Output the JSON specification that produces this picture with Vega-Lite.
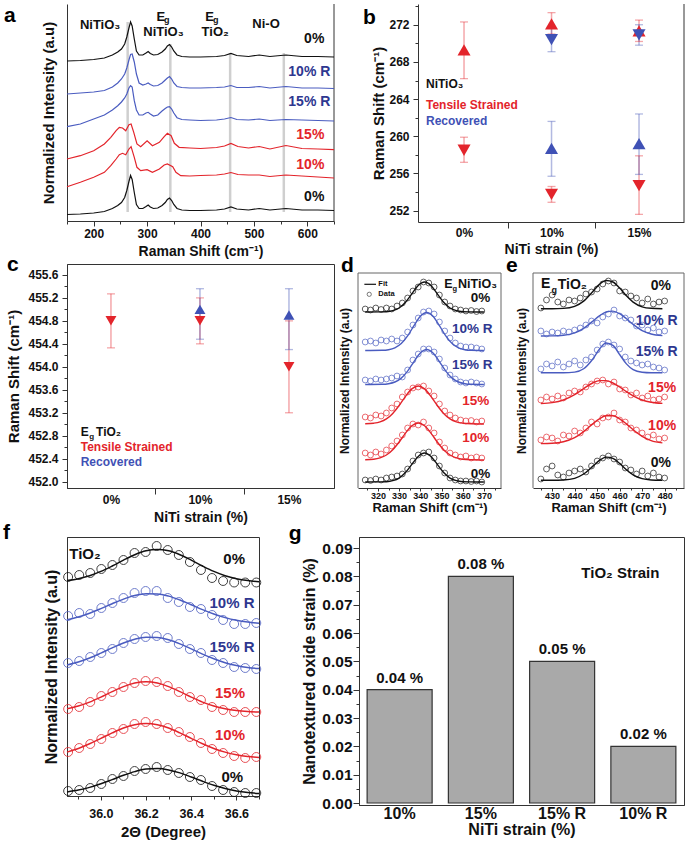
{
"$schema":"https://vega.github.io/schema/vega-lite/v6.json",
"padding":{"left":2,"top":0,"right":0,"bottom":0},
"spacing":-7,
"config":{
 "font":"Liberation Sans",
 "view":{"stroke":"#333","strokeWidth":1},
 "axis":{"labelFontWeight":"bold","titleFontWeight":"bold","labelColor":"#111","titleColor":"#111","domainColor":"#333","tickColor":"#333","grid":false,"labelFont":"Liberation Sans","titleFont":"Liberation Sans","labelOverlap":false,"labelFlush":false,"minExtent":0,"tickCount":100},
 "text":{"font":"Liberation Sans","fontWeight":"bold"}
},
"datasets":{
 "one":[{}],
 "a_vl":[{"x":263.6,"y1":9,"y2":199},{"x":343.5,"y1":9,"y2":177},{"x":455.5,"y1":9,"y2":168},{"x":556,"y1":9,"y2":168}],
 "a_sp":[
{"s":"k0","x":150,"y":160},{"s":"k0","x":175,"y":160.5},{"s":"k0","x":200,"y":161.5},{"s":"k0","x":220,"y":163},{"s":"k0","x":235,"y":166},{"s":"k0","x":245,"y":169},{"s":"k0","x":252,"y":172},{"s":"k0","x":258,"y":177},{"s":"k0","x":262,"y":184},{"s":"k0","x":266,"y":193},{"s":"k0","x":269,"y":199},{"s":"k0","x":272,"y":195},{"s":"k0","x":276,"y":182},{"s":"k0","x":280,"y":170},{"s":"k0","x":285,"y":166},{"s":"k0","x":292,"y":166},{"s":"k0","x":298,"y":168},{"s":"k0","x":302,"y":169.5},{"s":"k0","x":306,"y":167.5},{"s":"k0","x":312,"y":166},{"s":"k0","x":320,"y":166.5},{"s":"k0","x":328,"y":169},{"s":"k0","x":334,"y":172},{"s":"k0","x":338,"y":175},{"s":"k0","x":342,"y":176.5},{"s":"k0","x":346,"y":174},{"s":"k0","x":350,"y":170},{"s":"k0","x":356,"y":166},{"s":"k0","x":365,"y":164.5},{"s":"k0","x":380,"y":164},{"s":"k0","x":400,"y":164},{"s":"k0","x":430,"y":164.5},{"s":"k0","x":445,"y":165.5},{"s":"k0","x":457,"y":167.5},{"s":"k0","x":468,"y":165.5},{"s":"k0","x":490,"y":164.5},{"s":"k0","x":510,"y":166},{"s":"k0","x":530,"y":164.5},{"s":"k0","x":560,"y":166},{"s":"k0","x":590,"y":164.5},{"s":"k0","x":620,"y":164.5},{"s":"k0","x":650,"y":164},
{"s":"kR10","x":150,"y":127},{"s":"kR10","x":175,"y":128},{"s":"kR10","x":200,"y":129},{"s":"kR10","x":220,"y":130.5},{"s":"kR10","x":235,"y":134},{"s":"kR10","x":245,"y":138},{"s":"kR10","x":252,"y":142},{"s":"kR10","x":258,"y":147},{"s":"kR10","x":262,"y":153},{"s":"kR10","x":266,"y":161},{"s":"kR10","x":269,"y":166.5},{"s":"kR10","x":272,"y":167},{"s":"kR10","x":276,"y":159},{"s":"kR10","x":280,"y":147},{"s":"kR10","x":285,"y":138},{"s":"kR10","x":292,"y":136},{"s":"kR10","x":298,"y":137},{"s":"kR10","x":302,"y":138},{"s":"kR10","x":306,"y":136.5},{"s":"kR10","x":312,"y":135},{"s":"kR10","x":320,"y":135.5},{"s":"kR10","x":328,"y":138},{"s":"kR10","x":334,"y":141},{"s":"kR10","x":338,"y":143},{"s":"kR10","x":342,"y":144.5},{"s":"kR10","x":346,"y":142},{"s":"kR10","x":350,"y":138},{"s":"kR10","x":356,"y":134.5},{"s":"kR10","x":365,"y":133.5},{"s":"kR10","x":380,"y":133},{"s":"kR10","x":400,"y":133},{"s":"kR10","x":430,"y":133.5},{"s":"kR10","x":445,"y":134},{"s":"kR10","x":457,"y":135.5},{"s":"kR10","x":468,"y":133.5},{"s":"kR10","x":490,"y":133.5},{"s":"kR10","x":510,"y":134.5},{"s":"kR10","x":530,"y":133},{"s":"kR10","x":560,"y":134.5},{"s":"kR10","x":590,"y":133},{"s":"kR10","x":620,"y":133},{"s":"kR10","x":650,"y":132.5},
{"s":"kR15","x":150,"y":94.3},{"s":"kR15","x":175,"y":97},{"s":"kR15","x":200,"y":102},{"s":"kR15","x":220,"y":106},{"s":"kR15","x":235,"y":111},{"s":"kR15","x":245,"y":115.3},{"s":"kR15","x":252,"y":119},{"s":"kR15","x":258,"y":123},{"s":"kR15","x":262,"y":127},{"s":"kR15","x":266,"y":133},{"s":"kR15","x":269,"y":135.3},{"s":"kR15","x":272,"y":134},{"s":"kR15","x":276,"y":120.3},{"s":"kR15","x":280,"y":111},{"s":"kR15","x":285,"y":106},{"s":"kR15","x":292,"y":106},{"s":"kR15","x":298,"y":108},{"s":"kR15","x":302,"y":108.7},{"s":"kR15","x":306,"y":107},{"s":"kR15","x":312,"y":105},{"s":"kR15","x":320,"y":106},{"s":"kR15","x":328,"y":110},{"s":"kR15","x":334,"y":112.5},{"s":"kR15","x":338,"y":114},{"s":"kR15","x":342,"y":114.3},{"s":"kR15","x":346,"y":112},{"s":"kR15","x":350,"y":108},{"s":"kR15","x":356,"y":103.3},{"s":"kR15","x":365,"y":101.5},{"s":"kR15","x":380,"y":101},{"s":"kR15","x":400,"y":100.5},{"s":"kR15","x":430,"y":101},{"s":"kR15","x":445,"y":102},{"s":"kR15","x":457,"y":103.5},{"s":"kR15","x":468,"y":101.5},{"s":"kR15","x":490,"y":101},{"s":"kR15","x":510,"y":102},{"s":"kR15","x":530,"y":100.5},{"s":"kR15","x":560,"y":101.5},{"s":"kR15","x":590,"y":101},{"s":"kR15","x":620,"y":100.5},{"s":"kR15","x":650,"y":100},
{"s":"k15","x":150,"y":62},{"s":"k15","x":175,"y":65.3},{"s":"k15","x":200,"y":70.3},{"s":"k15","x":220,"y":77},{"s":"k15","x":232,"y":83.7},{"s":"k15","x":242,"y":90.3},{"s":"k15","x":248,"y":93.7},{"s":"k15","x":254,"y":93},{"s":"k15","x":260,"y":90.3},{"s":"k15","x":266,"y":96.3},{"s":"k15","x":270,"y":97},{"s":"k15","x":275,"y":88.7},{"s":"k15","x":281,"y":77},{"s":"k15","x":288,"y":74.3},{"s":"k15","x":300,"y":80.3},{"s":"k15","x":310,"y":75.3},{"s":"k15","x":323,"y":78.7},{"s":"k15","x":332,"y":84.3},{"s":"k15","x":338,"y":87.7},{"s":"k15","x":345,"y":85.3},{"s":"k15","x":351,"y":77.7},{"s":"k15","x":360,"y":73.7},{"s":"k15","x":380,"y":73},{"s":"k15","x":400,"y":72.5},{"s":"k15","x":430,"y":73.5},{"s":"k15","x":445,"y":75},{"s":"k15","x":457,"y":77.5},{"s":"k15","x":470,"y":74.5},{"s":"k15","x":490,"y":73},{"s":"k15","x":510,"y":74.5},{"s":"k15","x":530,"y":72},{"s":"k15","x":560,"y":75.5},{"s":"k15","x":590,"y":72.5},{"s":"k15","x":620,"y":72},{"s":"k15","x":650,"y":71.3},
{"s":"k10","x":150,"y":34.3},{"s":"k10","x":175,"y":38.7},{"s":"k10","x":200,"y":43.7},{"s":"k10","x":220,"y":48.7},{"s":"k10","x":232,"y":55.3},{"s":"k10","x":242,"y":62},{"s":"k10","x":248,"y":66.3},{"s":"k10","x":254,"y":67.7},{"s":"k10","x":260,"y":66.3},{"s":"k10","x":266,"y":72},{"s":"k10","x":270,"y":74.3},{"s":"k10","x":276,"y":63.7},{"s":"k10","x":281,"y":53.7},{"s":"k10","x":288,"y":50.3},{"s":"k10","x":300,"y":51.3},{"s":"k10","x":310,"y":48.7},{"s":"k10","x":323,"y":52},{"s":"k10","x":332,"y":56},{"s":"k10","x":338,"y":57},{"s":"k10","x":348,"y":54.3},{"s":"k10","x":354,"y":48.7},{"s":"k10","x":363,"y":45.3},{"s":"k10","x":380,"y":45},{"s":"k10","x":400,"y":45.5},{"s":"k10","x":430,"y":46},{"s":"k10","x":445,"y":47},{"s":"k10","x":457,"y":48.5},{"s":"k10","x":470,"y":46.5},{"s":"k10","x":490,"y":46},{"s":"k10","x":510,"y":46},{"s":"k10","x":530,"y":44.5},{"s":"k10","x":560,"y":46},{"s":"k10","x":590,"y":45},{"s":"k10","x":620,"y":44},{"s":"k10","x":650,"y":43},
{"s":"k0b","x":150,"y":6.5},{"s":"k0b","x":175,"y":7},{"s":"k0b","x":200,"y":8},{"s":"k0b","x":220,"y":9.5},{"s":"k0b","x":235,"y":12.5},{"s":"k0b","x":245,"y":15.5},{"s":"k0b","x":252,"y":18.5},{"s":"k0b","x":258,"y":23.5},{"s":"k0b","x":262,"y":30.5},{"s":"k0b","x":266,"y":39.5},{"s":"k0b","x":269,"y":45.5},{"s":"k0b","x":272,"y":41.5},{"s":"k0b","x":276,"y":28.5},{"s":"k0b","x":280,"y":16.5},{"s":"k0b","x":285,"y":12.5},{"s":"k0b","x":292,"y":12.5},{"s":"k0b","x":298,"y":14.5},{"s":"k0b","x":302,"y":16},{"s":"k0b","x":306,"y":14},{"s":"k0b","x":312,"y":12.5},{"s":"k0b","x":320,"y":13},{"s":"k0b","x":328,"y":15.5},{"s":"k0b","x":334,"y":18.5},{"s":"k0b","x":338,"y":21.5},{"s":"k0b","x":342,"y":23},{"s":"k0b","x":346,"y":20.5},{"s":"k0b","x":350,"y":16.5},{"s":"k0b","x":356,"y":12.5},{"s":"k0b","x":365,"y":11},{"s":"k0b","x":380,"y":10.5},{"s":"k0b","x":400,"y":10.5},{"s":"k0b","x":430,"y":11},{"s":"k0b","x":445,"y":12},{"s":"k0b","x":457,"y":14},{"s":"k0b","x":468,"y":12},{"s":"k0b","x":490,"y":11},{"s":"k0b","x":510,"y":12.5},{"s":"k0b","x":530,"y":11},{"s":"k0b","x":560,"y":12.5},{"s":"k0b","x":590,"y":11},{"s":"k0b","x":620,"y":11},{"s":"k0b","x":650,"y":10.5}],
 "a_lab":[{"s":"k0","x":631.9,"y":182,"t":"0%"},{"s":"kR10","x":643.2,"y":149.3,"t":"10% R"},{"s":"kR15","x":643.2,"y":118.7,"t":"15% R"},{"s":"k15","x":631.9,"y":86,"t":"15%"},{"s":"k10","x":631.9,"y":56,"t":"10%"},{"s":"k0b","x":631.9,"y":24.3,"t":"0%"}],
 "a_ann":[{"x":212,"y":196.3,"t":"NiTiO₃"},{"x":325.5,"y":204.5,"t":"E"},{"x":330.7,"y":188.7,"t":"NiTiO₃"},{"x":417,"y":204.5,"t":"E"},{"x":427.5,"y":188.7,"t":"TiO₂"},{"x":522.7,"y":197,"t":"Ni-O"}],
 "a_sub":[{"x":336.9,"y":200.7,"t":"g"},{"x":428.5,"y":200.7,"t":"g"}],
 "b_pts":[{"pos":1,"v":269.3,"lo":266.2,"hi":272.3,"grp":"T","m":"up"},{"pos":2,"v":272.1,"lo":271.0,"hi":273.3,"grp":"T","m":"up"},{"pos":3,"v":271.35,"lo":270.2,"hi":272.5,"grp":"T","m":"up"},{"pos":1,"v":258.5,"lo":257.2,"hi":259.9,"grp":"T","m":"down"},{"pos":2,"v":253.75,"lo":252.9,"hi":254.6,"grp":"T","m":"down"},{"pos":3,"v":254.7,"lo":251.6,"hi":257.9,"grp":"T","m":"down"},{"pos":2,"v":270.4,"lo":269.1,"hi":271.7,"grp":"R","m":"down"},{"pos":3,"v":270.9,"lo":269.8,"hi":272.0,"grp":"R","m":"down"},{"pos":2,"v":258.7,"lo":255.7,"hi":261.6,"grp":"R","m":"up"},{"pos":3,"v":259.2,"lo":255.9,"hi":262.4,"grp":"R","m":"up"}],
 "b_txt":[{"pos":0.565,"v":265.6,"t":"NiTiO₃","grp":"N"},{"pos":0.565,"v":263.4,"t":"Tensile Strained","grp":"T"},{"pos":0.565,"v":261.6,"t":"Recovered","grp":"R"}],
 "c_pts":[{"pos":1,"v":454.8,"lo":454.33,"hi":455.27,"grp":"T","m":"down"},{"pos":2,"v":454.8,"lo":454.4,"hi":455.2,"grp":"T","m":"down"},{"pos":3,"v":454.0,"lo":453.2,"hi":454.8,"grp":"T","m":"down"},{"pos":2,"v":455.0,"lo":454.48,"hi":455.36,"grp":"R","m":"up"},{"pos":3,"v":454.9,"lo":454.3,"hi":455.36,"grp":"R","m":"up"}],
 "c_txt":[{"pos":0.66,"v":452.86,"t":"E","grp":"N"},{"pos":0.832,"v":452.86,"t":"TiO₂","grp":"N"},{"pos":0.66,"v":452.61,"t":"Tensile Strained","grp":"T"},{"pos":0.66,"v":452.34,"t":"Recovered","grp":"R"}],
 "c_sub":[{"pos":0.755,"v":452.78,"t":"g"}],
 "d_fit":[
{"s":"k0","x":314,"y":176},{"s":"k0","x":321,"y":176.1},{"s":"k0","x":324,"y":176.3},{"s":"k0","x":327,"y":177.3},{"s":"k0","x":330,"y":180},{"s":"k0","x":333,"y":185.8},{"s":"k0","x":336,"y":194.2},{"s":"k0","x":339,"y":202.5},{"s":"k0","x":342,"y":206},{"s":"k0","x":345,"y":202.5},{"s":"k0","x":348,"y":194.2},{"s":"k0","x":351,"y":185.8},{"s":"k0","x":354,"y":180},{"s":"k0","x":357,"y":177.3},{"s":"k0","x":360,"y":176.3},{"s":"k0","x":363,"y":176.1},{"s":"k0","x":370,"y":176},
{"s":"kR10","x":314,"y":137.5},{"s":"kR10","x":322,"y":137.7},{"s":"kR10","x":325,"y":138.3},{"s":"kR10","x":328,"y":140.2},{"s":"kR10","x":331,"y":144.4},{"s":"kR10","x":334,"y":152.1},{"s":"kR10","x":337,"y":162.3},{"s":"kR10","x":340,"y":171.7},{"s":"kR10","x":343,"y":175.5},{"s":"kR10","x":346,"y":171.7},{"s":"kR10","x":349,"y":162.3},{"s":"kR10","x":352,"y":152.1},{"s":"kR10","x":355,"y":144.4},{"s":"kR10","x":358,"y":140.2},{"s":"kR10","x":361,"y":138.3},{"s":"kR10","x":364,"y":137.7},{"s":"kR10","x":370,"y":137.5},
{"s":"kR15","x":314,"y":103.5},{"s":"kR15","x":322,"y":103.7},{"s":"kR15","x":325,"y":104.3},{"s":"kR15","x":328,"y":106},{"s":"kR15","x":331,"y":109.9},{"s":"kR15","x":334,"y":116.9},{"s":"kR15","x":337,"y":126.4},{"s":"kR15","x":340,"y":135},{"s":"kR15","x":343,"y":138.5},{"s":"kR15","x":346,"y":135},{"s":"kR15","x":349,"y":126.4},{"s":"kR15","x":352,"y":116.9},{"s":"kR15","x":355,"y":109.9},{"s":"kR15","x":358,"y":106},{"s":"kR15","x":361,"y":104.3},{"s":"kR15","x":364,"y":103.7},{"s":"kR15","x":370,"y":103.5},
{"s":"k15","x":314,"y":64.2},{"s":"k15","x":318,"y":64.8},{"s":"k15","x":321,"y":66.1},{"s":"k15","x":324,"y":69.1},{"s":"k15","x":327,"y":74.6},{"s":"k15","x":330,"y":82.5},{"s":"k15","x":333,"y":91.6},{"s":"k15","x":336,"y":99.1},{"s":"k15","x":339,"y":102},{"s":"k15","x":342,"y":99.1},{"s":"k15","x":345,"y":91.6},{"s":"k15","x":348,"y":82.5},{"s":"k15","x":351,"y":74.6},{"s":"k15","x":354,"y":69.1},{"s":"k15","x":357,"y":66.1},{"s":"k15","x":360,"y":64.8},{"s":"k15","x":364,"y":64.2},{"s":"k15","x":370,"y":64},
{"s":"k10","x":314,"y":28.2},{"s":"k10","x":318,"y":28.7},{"s":"k10","x":321,"y":30.1},{"s":"k10","x":324,"y":33},{"s":"k10","x":327,"y":38.3},{"s":"k10","x":330,"y":46},{"s":"k10","x":333,"y":54.9},{"s":"k10","x":336,"y":62.2},{"s":"k10","x":339,"y":65},{"s":"k10","x":342,"y":62.2},{"s":"k10","x":345,"y":54.9},{"s":"k10","x":348,"y":46},{"s":"k10","x":351,"y":38.3},{"s":"k10","x":354,"y":33},{"s":"k10","x":357,"y":30.1},{"s":"k10","x":360,"y":28.7},{"s":"k10","x":364,"y":28.2},{"s":"k10","x":370,"y":28},
{"s":"k0b","x":314,"y":6},{"s":"k0b","x":321,"y":6.1},{"s":"k0b","x":324,"y":6.3},{"s":"k0b","x":327,"y":7.3},{"s":"k0b","x":330,"y":9.9},{"s":"k0b","x":333,"y":15.4},{"s":"k0b","x":336,"y":23.6},{"s":"k0b","x":339,"y":31.6},{"s":"k0b","x":342,"y":35},{"s":"k0b","x":345,"y":31.6},{"s":"k0b","x":348,"y":23.6},{"s":"k0b","x":351,"y":15.4},{"s":"k0b","x":354,"y":9.9},{"s":"k0b","x":357,"y":7.3},{"s":"k0b","x":360,"y":6.3},{"s":"k0b","x":363,"y":6.1},{"s":"k0b","x":370,"y":6}],
 "d_dat":[
{"x":314,"k0":179,"kR10":146,"kR15":108,"k15":71,"k10":35,"k0b":8},
{"x":316.5,"k0":178,"kR10":147,"kR15":107,"k15":70,"k10":33,"k0b":7.5},
{"x":319,"k0":180,"kR10":145,"kR15":109,"k15":73,"k10":36,"k0b":9},
{"x":321.5,"k0":178.5,"kR10":148,"kR15":108,"k15":72,"k10":34,"k0b":8},
{"x":324,"k0":180,"kR10":147,"kR15":109,"k15":75,"k10":38,"k0b":10},
{"x":326.5,"k0":179,"kR10":149,"kR15":110,"k15":80,"k10":42,"k0b":11},
{"x":329,"k0":182,"kR10":147,"kR15":112,"k15":84,"k10":47,"k0b":12},
{"x":331.5,"k0":185,"kR10":150,"kR15":111,"k15":91,"k10":53,"k0b":14},
{"x":334,"k0":190,"kR10":156,"kR15":118,"k15":96,"k10":60,"k0b":19},
{"x":336.5,"k0":197,"kR10":163,"kR15":128,"k15":100,"k10":64,"k0b":27},
{"x":339,"k0":201,"kR10":170,"kR15":134,"k15":101,"k10":63,"k0b":33},
{"x":341.5,"k0":206,"kR10":176,"kR15":139,"k15":102,"k10":66,"k0b":35},
{"x":344,"k0":205,"kR10":177,"kR15":139,"k15":97,"k10":60,"k0b":36},
{"x":346.5,"k0":201,"kR10":174,"kR15":136,"k15":92,"k10":55,"k0b":30},
{"x":349,"k0":193,"kR10":166,"kR15":129,"k15":84,"k10":46,"k0b":22},
{"x":351.5,"k0":186,"kR10":157,"kR15":120,"k15":77,"k10":40,"k0b":15},
{"x":354,"k0":182,"kR10":150,"kR15":113,"k15":73,"k10":35,"k0b":10},
{"x":356.5,"k0":179,"kR10":145,"kR15":109,"k15":70,"k10":33,"k0b":8},
{"x":359,"k0":178,"kR10":142,"kR15":106,"k15":68,"k10":31,"k0b":7},
{"x":361.5,"k0":177,"kR10":141,"kR15":105,"k15":67,"k10":32,"k0b":7},
{"x":364,"k0":177.5,"kR10":141,"kR15":106,"k15":67.5,"k10":30,"k0b":6.5},
{"x":366.5,"k0":176.5,"kR10":140,"kR15":105,"k15":66,"k10":31,"k0b":7},
{"x":369,"k0":177,"kR10":139,"kR15":104,"k15":67,"k10":30,"k0b":6}],
 "d_lab":[{"s":"k0","x":373,"y":190.3,"t":"0%"},{"s":"kR10","x":374.1,"y":158.7,"t":"10% R"},{"s":"kR15","x":374.1,"y":123,"t":"15% R"},{"s":"k15","x":372.5,"y":87,"t":"15%"},{"s":"k10","x":372.5,"y":50.3,"t":"10%"},{"s":"k0b","x":373,"y":13.7,"t":"0%"}],
 "d_big":[{"x":351.3,"y":204,"t":"E"},{"x":357.8,"y":204.3,"t":"NiTiO₃"}],
 "d_small":[{"x":355.2,"y":198.7,"t":"g"},{"x":320.2,"y":203.7,"t":"Fit"},{"x":320.2,"y":193.7,"t":"Data"}],
 "d_legl":[{"x":313.6,"x2":319.1,"y":203.7}],
 "d_legp":[{"x":315.9,"y":193.7}],
 "e_fit":[
{"x":425,"k0":179.3,"kR10":152,"kR15":115.3,"k15":84.5,"k10":44.4,"k0b":7.7},
{"x":430,"k0":179.3,"kR10":152.1,"kR15":115.3,"k15":85.4,"k10":44.7,"k0b":7.7},
{"x":435,"k0":179.6,"kR10":152.7,"kR15":115.3,"k15":88,"k10":46.2,"k0b":8},
{"x":440,"k0":181.7,"kR10":155.1,"kR15":115.9,"k15":93.4,"k10":50.3,"k0b":9.7},
{"x":444,"k0":186.9,"kR10":159.6,"kR15":119.2,"k15":99.4,"k10":56.4,"k0b":14},
{"x":448,"k0":196.3,"kR10":166.6,"kR15":128.8,"k15":105,"k10":64.1,"k0b":21.6},
{"x":451,"k0":203.6,"kR10":172.1,"kR15":138.8,"k15":107.4,"k10":69.2,"k0b":27.6},
{"x":454,"k0":207.5,"kR10":176,"kR15":145,"k15":107.4,"k10":72.3,"k0b":30.9},
{"x":457,"k0":206,"kR10":176.9,"kR15":142.6,"k15":105,"k10":72.3,"k0b":29.6},
{"x":460,"k0":199.9,"kR10":174.3,"kR15":133.5,"k15":101,"k10":69.2,"k0b":24.6},
{"x":463,"k0":192.2,"kR10":169.3,"kR15":124.1,"k15":96.3,"k10":64.1,"k0b":18.3},
{"x":466,"k0":185.9,"kR10":163.6,"kR15":118.4,"k15":92.1,"k10":58.2,"k0b":13.1},
{"x":470,"k0":181.2,"kR10":157.4,"kR15":115.8,"k15":88,"k10":51.6,"k0b":9.3},
{"x":474,"k0":179.7,"kR10":154,"kR15":115.3,"k15":85.7,"k10":47.4,"k0b":8},
{"x":479,"k0":179.3,"kR10":152.4,"kR15":115.3,"k15":84.6,"k10":45.1,"k0b":7.7}],
 "e_dat":[
{"x":425,"k0":180,"kR10":157,"kR15":119,"k15":88,"k10":48,"k0b":9},
{"x":427.5,"k0":188,"kR10":154,"kR15":124,"k15":91,"k10":51,"k0b":19},
{"x":430,"k0":193,"kR10":156,"kR15":122,"k15":89,"k10":50,"k0b":22},
{"x":432.5,"k0":186,"kR10":155,"kR15":126,"k15":92,"k10":47,"k0b":13},
{"x":435,"k0":184,"kR10":157,"kR15":121,"k15":90,"k10":53,"k0b":11},
{"x":437.5,"k0":188,"kR10":156,"kR15":124,"k15":95,"k10":52,"k0b":15},
{"x":440,"k0":187,"kR10":158,"kR15":127,"k15":97,"k10":57,"k0b":17},
{"x":442.5,"k0":190,"kR10":160,"kR15":123,"k15":96,"k10":55,"k0b":19},
{"x":445,"k0":194,"kR10":163,"kR15":128,"k15":101,"k10":60,"k0b":16},
{"x":447.5,"k0":196,"kR10":167,"kR15":131,"k15":104,"k10":66,"k0b":22},
{"x":450,"k0":199,"kR10":165,"kR15":138,"k15":107,"k10":64,"k0b":27},
{"x":452.5,"k0":204,"kR10":171,"kR15":144,"k15":108,"k10":70,"k0b":30},
{"x":455,"k0":207,"kR10":174,"kR15":146,"k15":104,"k10":71,"k0b":32},
{"x":457.5,"k0":205,"kR10":178,"kR15":143,"k15":106,"k10":75,"k0b":29},
{"x":460,"k0":197,"kR10":172,"kR15":139,"k15":99,"k10":68,"k0b":26},
{"x":462.5,"k0":196,"kR10":170,"kR15":131,"k15":98,"k10":66,"k0b":20},
{"x":465,"k0":192,"kR10":168,"kR15":127,"k15":93,"k10":60,"k0b":18},
{"x":467.5,"k0":190,"kR10":162,"kR15":125,"k15":95,"k10":58,"k0b":14},
{"x":470,"k0":185,"kR10":163,"kR15":123,"k15":90,"k10":55,"k0b":17},
{"x":472.5,"k0":189,"kR10":158,"kR15":124,"k15":92,"k10":51,"k0b":12},
{"x":475,"k0":184,"kR10":160,"kR15":121,"k15":88,"k10":53,"k0b":15},
{"x":477.5,"k0":186,"kR10":156,"kR15":120,"k15":89,"k10":49,"k0b":11},
{"x":480,"k0":187,"kR10":157,"kR15":118,"k15":91,"k10":50,"k0b":10}],
 "e_lab":[{"s":"k0","x":482.8,"y":202,"t":"0%"},{"s":"kR10","x":485.8,"y":167,"t":"10% R"},{"s":"kR15","x":485.8,"y":136.3,"t":"15% R"},{"s":"k15","x":485.1,"y":100.3,"t":"15%"},{"s":"k10","x":485.1,"y":62,"t":"10%"},{"s":"k0b","x":482.8,"y":25.3,"t":"0%"}],
 "e_big":[{"x":425.1,"y":203.7,"t":"E"},{"x":432.5,"y":203,"t":"TiO₂"}],
 "e_sub":[{"x":429.7,"y":197.7,"t":"g"}],
 "f_fit":[
{"x":35.85,"k0":215.4,"kR10":176.2,"kR15":131,"k15":87.2,"k10":43.9,"k0b":4},
{"x":35.9,"k0":217.3,"kR10":179,"kR15":134,"k15":90,"k10":47.5,"k0b":5.9},
{"x":35.95,"k0":220.3,"kR10":182.8,"kR15":138,"k15":93.9,"k10":52.2,"k0b":8.6},
{"x":36.0,"k0":224.6,"kR10":187.4,"kR15":142.9,"k15":98.9,"k10":57.6,"k0b":12.2},
{"x":36.05,"k0":230,"kR10":192.3,"kR15":148.1,"k15":104.4,"k10":63.1,"k0b":16.4},
{"x":36.1,"k0":235.9,"kR10":196.9,"kR15":153,"k15":109.4,"k10":68,"k0b":20.7},
{"x":36.15,"k0":241.3,"kR10":200.5,"kR15":156.8,"k15":113,"k10":71.3,"k0b":24.4},
{"x":36.2,"k0":245.2,"kR10":202.3,"kR15":158.8,"k15":114.3,"k10":72.5,"k0b":26.9},
{"x":36.25,"k0":246.6,"kR10":202.1,"kR15":158.6,"k15":113,"k10":71.3,"k0b":27.4},
{"x":36.3,"k0":245.2,"kR10":199.9,"kR15":156.2,"k15":109.4,"k10":68,"k0b":26.1},
{"x":36.35,"k0":241.3,"kR10":196,"kR15":152.1,"k15":104.4,"k10":63.1,"k0b":23.1},
{"x":36.4,"k0":235.9,"kR10":191.3,"kR15":147.1,"k15":98.9,"k10":57.6,"k0b":19},
{"x":36.45,"k0":230,"kR10":186.4,"kR15":141.9,"k15":93.9,"k10":52.2,"k0b":14.7},
{"x":36.5,"k0":224.6,"kR10":182,"kR15":137.2,"k15":90,"k10":47.5,"k0b":10.7},
{"x":36.55,"k0":220.3,"kR10":178.4,"kR15":133.3,"k15":87.2,"k10":43.9,"k0b":7.4},
{"x":36.6,"k0":217.3,"kR10":175.7,"kR15":130.5,"k15":85.4,"k10":41.3,"k0b":5},
{"x":36.65,"k0":215.4,"kR10":173.9,"kR15":128.5,"k15":84.4,"k10":39.6,"k0b":3.4},
{"x":36.7,"k0":214.3,"kR10":172.8,"kR15":127.4,"k15":83.9,"k10":38.6,"k0b":2.5}],
 "f_dat":[
{"x":35.855,"k0":219,"kR10":180,"kR15":133,"k15":87,"k10":44,"k0b":5},
{"x":35.904,"k0":221,"kR10":183,"kR15":135,"k15":89,"k10":48,"k0b":6},
{"x":35.953,"k0":223,"kR10":182,"kR15":139,"k15":94,"k10":52,"k0b":8},
{"x":36.002,"k0":227,"kR10":188,"kR15":143,"k15":100,"k10":57,"k0b":12},
{"x":36.051,"k0":231,"kR10":193,"kR15":147,"k15":104,"k10":63,"k0b":17},
{"x":36.1,"k0":236,"kR10":198,"kR15":153,"k15":109,"k10":67,"k0b":20},
{"x":36.149,"k0":243,"kR10":203,"kR15":157,"k15":113,"k10":72,"k0b":25},
{"x":36.198,"k0":244,"kR10":205,"kR15":159,"k15":115,"k10":74,"k0b":27},
{"x":36.247,"k0":250,"kR10":205,"kR15":160,"k15":114,"k10":72,"k0b":29},
{"x":36.296,"k0":246,"kR10":198,"kR15":158,"k15":110,"k10":68,"k0b":26},
{"x":36.345,"k0":241,"kR10":194,"kR15":152,"k15":104,"k10":64,"k0b":23},
{"x":36.394,"k0":234,"kR10":189,"kR15":147,"k15":99,"k10":59,"k0b":19},
{"x":36.443,"k0":226,"kR10":187,"kR15":143,"k15":96,"k10":53,"k0b":16},
{"x":36.492,"k0":218,"kR10":181,"kR15":136,"k15":89,"k10":47,"k0b":10},
{"x":36.541,"k0":215,"kR10":176,"kR15":133,"k15":86,"k10":43,"k0b":6},
{"x":36.59,"k0":213.5,"kR10":172,"kR15":129,"k15":84,"k10":40,"k0b":4},
{"x":36.639,"k0":213.5,"kR10":172,"kR15":128,"k15":84,"k10":38,"k0b":3},
{"x":36.688,"k0":213.5,"kR10":173,"kR15":127,"k15":84,"k10":39,"k0b":3}],
 "f_lab":[{"s":"k0","x":36.638,"y":236.7,"t":"0%"},{"s":"kR10","x":36.68,"y":193.3,"t":"10% R"},{"s":"kR15","x":36.68,"y":149.3,"t":"15% R"},{"s":"k15","x":36.638,"y":102.7,"t":"15%"},{"s":"k10","x":36.638,"y":61,"t":"10%"},{"s":"k0b","x":36.63,"y":19.3,"t":"0%"}],
 "f_ann":[{"x":35.86,"y":242,"t":"TiO₂"}],
 "g_bars":[{"k":"10%","v":0.04,"lab":"0.04 %"},{"k":"15%","v":0.08,"lab":"0.08 %"},{"k":"15% R","v":0.05,"lab":"0.05 %"},{"k":"10% R","v":0.02,"lab":"0.02 %"}],
 "g_note":[{"k":"10% R","v":0.0811,"t":"TiO₂ Strain"}]
},
"vconcat":[
{"hconcat":[
{"width":267,"height":217,"view":{"stroke":null},
 "layer":[
  {"data":{"name":"a_vl"},"mark":{"type":"rule","color":"#cfcfcf","strokeWidth":2.5},
   "encoding":{
    "x":{"field":"x","type":"quantitative","scale":{"domain":[150,650],"nice":false,"zero":false},
      "axis":{"title":"Raman Shift (cm⁻¹)","values":[150,200,250,300,350,400,450,500,550,600,650],"format":"d","labelExpr":"datum.value % 100 === 0 ? datum.label : ''","tickSize":{"condition":{"test":"datum.value % 100 === 0","value":5},"value":3},"labelFontSize":12,"labelPadding":2,"titleFontSize":14,"titleX":133.5,"titleY":30,"titleBaseline":"middle"}},
    "y":{"field":"y1","type":"quantitative","scale":{"domain":[0,217],"nice":false,"zero":false},
      "axis":{"title":"Normalized Intensity (a.u)","labels":false,"ticks":false,"titleFontSize":15,"titleX":-19,"titleY":108.5,"titleBaseline":"middle"}},
    "y2":{"field":"y2"}}},
  {"data":{"name":"one"},"mark":{"type":"rule","color":"#333","strokeWidth":1},"encoding":{"x":{"datum":650},"y":{"datum":0},"y2":{"datum":217}}},
  {"data":{"name":"a_sp"},"mark":{"type":"line","strokeWidth":1.2},
   "encoding":{"x":{"field":"x","type":"quantitative"},"y":{"field":"y","type":"quantitative"},
    "stroke":{"field":"s","type":"nominal","scale":{"domain":["k0","kR10","kR15","k15","k10","k0b"],"range":["#111111","#4a5cc0","#4a5cc0","#e3242b","#e3242b","#111111"]},"legend":null}}},
  {"data":{"name":"a_lab"},"mark":{"type":"text","align":"right","baseline":"middle","fontSize":14,"fontWeight":"bold"},
   "encoding":{"x":{"field":"x","type":"quantitative"},"y":{"field":"y","type":"quantitative"},"text":{"field":"t"},
    "fill":{"field":"s","type":"nominal","scale":{"domain":["k0","kR10","kR15","k15","k10","k0b"],"range":["#111111","#2e3790","#2e3790","#e3242b","#e3242b","#111111"]},"legend":null}}},
  {"data":{"name":"a_ann"},"mark":{"type":"text","align":"center","baseline":"middle","fontSize":13,"fontWeight":"bold","color":"#111"},
   "encoding":{"x":{"field":"x","type":"quantitative"},"y":{"field":"y","type":"quantitative"},"text":{"field":"t"}}},
  {"data":{"name":"a_sub"},"mark":{"type":"text","align":"center","baseline":"middle","fontSize":9,"fontWeight":"bold","color":"#111"},
   "encoding":{"x":{"field":"x","type":"quantitative"},"y":{"field":"y","type":"quantitative"},"text":{"field":"t"}}},
  {"data":{"name":"one"},"mark":{"type":"text","text":"a","align":"left","baseline":"alphabetic","fontSize":21,"fontWeight":"bold","color":"#000","dx":-63,"dy":18},
   "encoding":{"x":{"datum":150},"y":{"datum":217}}}
 ]},
{"width":84,"height":1,"view":{"stroke":null},"data":{"values":[]},"mark":"text","encoding":{}},
{"width":266,"height":218,"view":{"stroke":null},
 "layer":[
  {"data":{"name":"b_pts"},"mark":{"type":"rule","strokeWidth":1.5,"opacity":0.4},
   "encoding":{
    "x":{"field":"pos","type":"quantitative","scale":{"domain":[0.474,3.514],"nice":false,"zero":false},
      "axis":{"title":"NiTi strain (%)","values":[1,1.5,2,2.5,3],"labelExpr":"datum.value === 1 ? '0%' : datum.value === 2 ? '10%' : datum.value === 3 ? '15%' : ''","tickSize":{"condition":{"test":"datum.value % 1 !== 0","value":6},"value":0},"labelFontSize":12,"labelPadding":5,"titleFontSize":14,"titleX":133,"titleY":27,"titleBaseline":"middle"}},
    "y":{"field":"lo","type":"quantitative","scale":{"domain":[250.78,274.23],"nice":false,"zero":false},
      "axis":{"title":"Raman Shift (cm⁻¹)","values":[252,254,256,258,260,262,264,266,268,270,272,274],"format":"d","labelExpr":"datum.value % 4 === 0 ? datum.label : ''","tickSize":{"condition":{"test":"datum.value % 4 === 0","value":5},"value":3},"labelFontSize":12,"labelPadding":4,"titleFontSize":15,"titleX":-40,"titleY":109,"titleBaseline":"middle"}},
    "y2":{"field":"hi"},
    "color":{"field":"grp","type":"nominal","scale":{"domain":["T","R","N"],"range":["#e3242b","#3f51b5","#111111"]},"legend":null}}},
  {"data":{"name":"one"},"mark":{"type":"rule","color":"#333","strokeWidth":1},"encoding":{"x":{"datum":3.514},"y":{"datum":250.78},"y2":{"datum":274.23}}},
  {"data":{"name":"b_pts"},"mark":{"type":"tick","orient":"horizontal","size":8,"thickness":1.3,"opacity":0.4},
   "encoding":{"x":{"field":"pos","type":"quantitative"},"y":{"field":"lo","type":"quantitative"},"color":{"field":"grp","type":"nominal"}}},
  {"data":{"name":"b_pts"},"mark":{"type":"tick","orient":"horizontal","size":8,"thickness":1.3,"opacity":0.4},
   "encoding":{"x":{"field":"pos","type":"quantitative"},"y":{"field":"hi","type":"quantitative"},"color":{"field":"grp","type":"nominal"}}},
  {"data":{"name":"b_pts"},"mark":{"type":"point","filled":true,"size":170,"opacity":1,"strokeWidth":0},
   "encoding":{"x":{"field":"pos","type":"quantitative"},"y":{"field":"v","type":"quantitative"},"color":{"field":"grp","type":"nominal"},
    "shape":{"field":"m","type":"nominal","scale":{"domain":["up","down"],"range":["triangle-up","triangle-down"]},"legend":null}}},
  {"data":{"name":"b_txt"},"mark":{"type":"text","align":"left","baseline":"middle","fontSize":12,"fontWeight":"bold"},
   "encoding":{"x":{"field":"pos","type":"quantitative"},"y":{"field":"v","type":"quantitative"},"text":{"field":"t"},"color":{"field":"grp","type":"nominal"}}},
  {"data":{"name":"one"},"mark":{"type":"text","text":"b","align":"left","baseline":"alphabetic","fontSize":21,"fontWeight":"bold","color":"#000","dx":-55,"dy":20},
   "encoding":{"x":{"datum":0.474},"y":{"datum":274.23}}}
 ]}
],"spacing":0,"bounds":"flush"},
{"width":1,"height":1.5,"view":{"stroke":null},"data":{"values":[]},"mark":"text","encoding":{}},
{"hconcat":[
{"width":267,"height":224,
 "layer":[
  {"data":{"name":"c_pts"},"mark":{"type":"rule","strokeWidth":1.5,"opacity":0.4},
   "encoding":{
    "x":{"field":"pos","type":"quantitative","scale":{"domain":[0.506,3.506],"nice":false,"zero":false},
      "axis":{"title":"NiTi strain (%)","values":[1,1.5,2,2.5,3],"labelExpr":"datum.value === 1 ? '0%' : datum.value === 2 ? '10%' : datum.value === 3 ? '15%' : ''","tickSize":{"condition":{"test":"datum.value % 1 !== 0","value":6},"value":0},"labelFontSize":12,"labelPadding":6,"titleFontSize":14,"titleX":133.5,"titleY":29,"titleBaseline":"middle"}},
    "y":{"field":"lo","type":"quantitative","scale":{"domain":[451.89,455.79],"nice":false,"zero":false},
      "axis":{"title":"Raman Shift (cm⁻¹)","values":[452.0,452.2,452.4,452.6,452.8,453.0,453.2,453.4,453.6,453.8,454.0,454.2,454.4,454.6,454.8,455.0,455.2,455.4,455.6],"format":".1f","labelExpr":"round(datum.value*10) % 4 === 0 ? datum.label : ''","tickSize":{"condition":{"test":"round(datum.value*10) % 4 === 0","value":5},"value":3},"labelFontSize":12,"labelPadding":4,"titleFontSize":15,"titleX":-54,"titleY":112,"titleBaseline":"middle"}},
    "y2":{"field":"hi"},
    "color":{"field":"grp","type":"nominal","scale":{"domain":["T","R","N"],"range":["#e3242b","#3f51b5","#111111"]},"legend":null}}},
  {"data":{"name":"c_pts"},"mark":{"type":"tick","orient":"horizontal","size":8,"thickness":1.3,"opacity":0.4},
   "encoding":{"x":{"field":"pos","type":"quantitative"},"y":{"field":"lo","type":"quantitative"},"color":{"field":"grp","type":"nominal"}}},
  {"data":{"name":"c_pts"},"mark":{"type":"tick","orient":"horizontal","size":8,"thickness":1.3,"opacity":0.4},
   "encoding":{"x":{"field":"pos","type":"quantitative"},"y":{"field":"hi","type":"quantitative"},"color":{"field":"grp","type":"nominal"}}},
  {"data":{"name":"c_pts"},"mark":{"type":"point","filled":true,"size":120,"opacity":1,"strokeWidth":0},
   "encoding":{"x":{"field":"pos","type":"quantitative"},"y":{"field":"v","type":"quantitative"},"color":{"field":"grp","type":"nominal"},
    "shape":{"field":"m","type":"nominal","scale":{"domain":["up","down"],"range":["triangle-up","triangle-down"]},"legend":null}}},
  {"data":{"name":"c_txt"},"mark":{"type":"text","align":"left","baseline":"middle","fontSize":12,"fontWeight":"bold"},
   "encoding":{"x":{"field":"pos","type":"quantitative"},"y":{"field":"v","type":"quantitative"},"text":{"field":"t"},"color":{"field":"grp","type":"nominal"}}},
  {"data":{"name":"c_sub"},"mark":{"type":"text","align":"left","baseline":"middle","fontSize":8,"fontWeight":"bold","color":"#111"},
   "encoding":{"x":{"field":"pos","type":"quantitative"},"y":{"field":"v","type":"quantitative"},"text":{"field":"t"}}},
  {"data":{"name":"one"},"mark":{"type":"text","text":"c","align":"left","baseline":"alphabetic","fontSize":21,"fontWeight":"bold","color":"#000","dx":-60,"dy":7},
   "encoding":{"x":{"datum":0.506},"y":{"datum":455.79}}}
 ]},
{"width":24,"height":1,"view":{"stroke":null},"data":{"values":[]},"mark":"text","encoding":{}},
{"width":143,"height":224,"view":{"stroke":null},
 "layer":[
  {"data":{"name":"d_fit"},"mark":{"type":"line","interpolate":"monotone","strokeWidth":1.4},
   "encoding":{
    "x":{"field":"x","type":"quantitative","scale":{"domain":[310.6,378.05],"nice":false,"zero":false},
      "axis":{"title":"Raman Shift (cm⁻¹)","values":[315,320,325,330,335,340,345,350,355,360,365,370,375],"format":"d","labelExpr":"datum.value % 10 === 0 ? datum.label : ''","tickSize":{"condition":{"test":"datum.value % 10 === 0","value":3},"value":2},"labelFontSize":9,"labelPadding":0,"titleFontSize":13,"titleX":71.5,"titleY":19,"titleBaseline":"middle"}},
    "y":{"field":"y","type":"quantitative","scale":{"domain":[0,224],"nice":false,"zero":false},
      "axis":{"title":"Normalized Intensity (a.u)","labels":false,"ticks":false,"domain":false,"titleFontSize":12,"titleX":-14,"titleY":116.5,"titleBaseline":"middle"}},
    "stroke":{"field":"s","type":"nominal","scale":{"domain":["k0","kR10","kR15","k15","k10","k0b"],"range":["#111111","#4a5cc0","#4a5cc0","#e3242b","#e3242b","#111111"]},"legend":null}}},
  {"data":{"name":"d_dat"},"transform":[{"fold":["k0","kR10","kR15","k15","k10","k0b"],"as":["s","y"]}],
   "mark":{"type":"point","shape":"circle","filled":false,"size":34,"strokeWidth":0.9,"opacity":0.75},
   "encoding":{"x":{"field":"x","type":"quantitative"},"y":{"field":"y","type":"quantitative"},"stroke":{"field":"s","type":"nominal"}}},
  {"data":{"name":"d_lab"},"mark":{"type":"text","align":"right","baseline":"middle","fontSize":13.5,"fontWeight":"bold"},
   "encoding":{"x":{"field":"x","type":"quantitative"},"y":{"field":"y","type":"quantitative"},"text":{"field":"t"},
    "fill":{"field":"s","type":"nominal","scale":{"domain":["k0","kR10","kR15","k15","k10","k0b"],"range":["#111111","#2e3790","#2e3790","#e3242b","#e3242b","#111111"]},"legend":null}}},
  {"data":{"name":"d_big"},"mark":{"type":"text","align":"left","baseline":"middle","fontSize":12.5,"fontWeight":"bold","color":"#111"},
   "encoding":{"x":{"field":"x","type":"quantitative"},"y":{"field":"y","type":"quantitative"},"text":{"field":"t"}}},
  {"data":{"name":"d_small"},"mark":{"type":"text","align":"left","baseline":"middle","fontSize":7.5,"fontWeight":"bold","color":"#111"},
   "encoding":{"x":{"field":"x","type":"quantitative"},"y":{"field":"y","type":"quantitative"},"text":{"field":"t"}}},
  {"data":{"name":"d_legl"},"mark":{"type":"rule","color":"#111","strokeWidth":1.2},
   "encoding":{"x":{"field":"x","type":"quantitative"},"x2":{"field":"x2"},"y":{"field":"y","type":"quantitative"}}},
  {"data":{"name":"d_legp"},"mark":{"type":"point","shape":"circle","filled":false,"size":18,"strokeWidth":0.8,"color":"#111"},
   "encoding":{"x":{"field":"x","type":"quantitative"},"y":{"field":"y","type":"quantitative"}}},
  {"data":{"name":"one"},"mark":{"type":"rule","color":"#666","strokeWidth":1},"encoding":{"x":{"datum":310.6},"y":{"datum":0},"y2":{"datum":215}}},
  {"data":{"name":"one"},"mark":{"type":"rule","color":"#666","strokeWidth":1},"encoding":{"x":{"datum":378.05},"y":{"datum":0},"y2":{"datum":215}}},
  {"data":{"name":"one"},"mark":{"type":"rule","color":"#666","strokeWidth":1},"encoding":{"x":{"datum":310.6},"x2":{"datum":378.05},"y":{"datum":215}}},
  {"data":{"name":"one"},"mark":{"type":"text","text":"d","align":"left","baseline":"alphabetic","fontSize":21,"fontWeight":"bold","color":"#000","dx":-17,"dy":8},
   "encoding":{"x":{"datum":310.6},"y":{"datum":224}}}
 ]},
{"width":32,"height":1,"view":{"stroke":null},"data":{"values":[]},"mark":"text","encoding":{}},
{"width":151,"height":224,"view":{"stroke":null},
 "layer":[
  {"data":{"name":"e_fit"},"transform":[{"fold":["k0","kR10","kR15","k15","k10","k0b"],"as":["s","y"]}],
   "mark":{"type":"line","interpolate":"monotone","strokeWidth":1.4},
   "encoding":{
    "x":{"field":"x","type":"quantitative","scale":{"domain":[421.5,488.6],"nice":false,"zero":false},
      "axis":{"title":"Raman Shift (cm⁻¹)","values":[425,430,435,440,445,450,455,460,465,470,475,480,485],"format":"d","labelExpr":"datum.value % 10 === 0 ? datum.label : ''","tickSize":{"condition":{"test":"datum.value % 10 === 0","value":3},"value":2},"labelFontSize":9,"labelPadding":0,"titleFontSize":13,"titleX":75.5,"titleY":19,"titleBaseline":"middle"}},
    "y":{"field":"y","type":"quantitative","scale":{"domain":[0,224],"nice":false,"zero":false},
      "axis":{"title":"Normalized Intensity (a.u)","labels":false,"ticks":false,"domain":false,"titleFontSize":12,"titleX":-12,"titleY":116.5,"titleBaseline":"middle"}},
    "stroke":{"field":"s","type":"nominal","scale":{"domain":["k0","kR10","kR15","k15","k10","k0b"],"range":["#111111","#4a5cc0","#4a5cc0","#e3242b","#e3242b","#111111"]},"legend":null}}},
  {"data":{"name":"e_dat"},"transform":[{"fold":["k0","kR10","kR15","k15","k10","k0b"],"as":["s","y"]}],
   "mark":{"type":"point","shape":"circle","filled":false,"size":34,"strokeWidth":0.9,"opacity":0.75},
   "encoding":{"x":{"field":"x","type":"quantitative"},"y":{"field":"y","type":"quantitative"},"stroke":{"field":"s","type":"nominal"}}},
  {"data":{"name":"e_lab"},"mark":{"type":"text","align":"right","baseline":"middle","fontSize":14,"fontWeight":"bold"},
   "encoding":{"x":{"field":"x","type":"quantitative"},"y":{"field":"y","type":"quantitative"},"text":{"field":"t"},
    "fill":{"field":"s","type":"nominal","scale":{"domain":["k0","kR10","kR15","k15","k10","k0b"],"range":["#111111","#2e3790","#2e3790","#e3242b","#e3242b","#111111"]},"legend":null}}},
  {"data":{"name":"e_big"},"mark":{"type":"text","align":"left","baseline":"middle","fontSize":14,"fontWeight":"bold","color":"#111"},
   "encoding":{"x":{"field":"x","type":"quantitative"},"y":{"field":"y","type":"quantitative"},"text":{"field":"t"}}},
  {"data":{"name":"e_sub"},"mark":{"type":"text","align":"left","baseline":"middle","fontSize":9,"fontWeight":"bold","color":"#111"},
   "encoding":{"x":{"field":"x","type":"quantitative"},"y":{"field":"y","type":"quantitative"},"text":{"field":"t"}}},
  {"data":{"name":"one"},"mark":{"type":"rule","color":"#666","strokeWidth":1},"encoding":{"x":{"datum":421.5},"y":{"datum":0},"y2":{"datum":215}}},
  {"data":{"name":"one"},"mark":{"type":"rule","color":"#666","strokeWidth":1},"encoding":{"x":{"datum":488.6},"y":{"datum":0},"y2":{"datum":215}}},
  {"data":{"name":"one"},"mark":{"type":"rule","color":"#666","strokeWidth":1},"encoding":{"x":{"datum":421.5},"x2":{"datum":488.6},"y":{"datum":215}}},
  {"data":{"name":"one"},"mark":{"type":"text","text":"e","align":"left","baseline":"alphabetic","fontSize":21,"fontWeight":"bold","color":"#000","dx":-27,"dy":8},
   "encoding":{"x":{"datum":421.5},"y":{"datum":224}}}
 ]}
],"spacing":0,"bounds":"flush"},
{"width":1,"height":3,"view":{"stroke":null},"data":{"values":[]},"mark":"text","encoding":{}},
{"hconcat":[
{"width":192,"height":259,
 "layer":[
  {"data":{"name":"f_fit"},"transform":[{"fold":["k0","kR10","kR15","k15","k10","k0b"],"as":["s","y"]}],
   "mark":{"type":"line","interpolate":"monotone","strokeWidth":1.5},
   "encoding":{
    "x":{"field":"x","type":"quantitative","scale":{"domain":[35.85,36.7],"nice":false,"zero":false},
      "axis":{"title":"2Θ (Degree)","values":[35.9,36.0,36.1,36.2,36.3,36.4,36.5,36.6,36.7],"format":".1f","labelExpr":"round(datum.value*10) % 2 === 0 ? datum.label : ''","tickSize":{"condition":{"test":"round(datum.value*10) % 2 === 0","value":4},"value":3},"labelFontSize":12.5,"labelPadding":7,"titleFontSize":15,"titleX":96,"titleY":35,"titleBaseline":"middle"}},
    "y":{"field":"y","type":"quantitative","scale":{"domain":[0,259],"nice":false,"zero":false},
      "axis":{"title":"Normalized Intensity (a.u)","labels":false,"ticks":false,"titleFontSize":16,"titleX":-16,"titleY":129.5,"titleBaseline":"middle"}},
    "stroke":{"field":"s","type":"nominal","scale":{"domain":["k0","kR10","kR15","k15","k10","k0b"],"range":["#111111","#4a5cc0","#4a5cc0","#e3242b","#e3242b","#111111"]},"legend":null}}},
  {"data":{"name":"f_dat"},"transform":[{"fold":["k0","kR10","kR15","k15","k10","k0b"],"as":["s","y"]}],
   "mark":{"type":"point","shape":"circle","filled":false,"size":80,"strokeWidth":1,"opacity":0.8},
   "encoding":{"x":{"field":"x","type":"quantitative"},"y":{"field":"y","type":"quantitative"},"stroke":{"field":"s","type":"nominal"}}},
  {"data":{"name":"f_lab"},"mark":{"type":"text","align":"right","baseline":"middle","fontSize":15,"fontWeight":"bold"},
   "encoding":{"x":{"field":"x","type":"quantitative"},"y":{"field":"y","type":"quantitative"},"text":{"field":"t"},
    "fill":{"field":"s","type":"nominal","scale":{"domain":["k0","kR10","kR15","k15","k10","k0b"],"range":["#111111","#2e3790","#2e3790","#e3242b","#e3242b","#111111"]},"legend":null}}},
  {"data":{"name":"f_ann"},"mark":{"type":"text","align":"left","baseline":"middle","fontSize":15,"fontWeight":"bold","color":"#111"},
   "encoding":{"x":{"field":"x","type":"quantitative"},"y":{"field":"y","type":"quantitative"},"text":{"field":"t"}}},
  {"data":{"name":"one"},"mark":{"type":"text","text":"f","align":"left","baseline":"alphabetic","fontSize":21,"fontWeight":"bold","color":"#000","dx":-64,"dy":2},
   "encoding":{"x":{"datum":35.85},"y":{"datum":259}}}
 ]},
{"width":100,"height":1,"view":{"stroke":null},"data":{"values":[]},"mark":"text","encoding":{}},
{"width":325,"height":268,
 "layer":[
  {"data":{"name":"g_bars"},"mark":{"type":"bar","fill":"#a9a9a9","stroke":"#333","strokeWidth":1.2},
   "encoding":{
    "x":{"field":"k","type":"nominal","sort":null,"scale":{"paddingInner":0.2,"paddingOuter":0.1},
      "axis":{"title":"NiTi strain (%)","labelAngle":0,"ticks":false,"labelFontSize":16,"labelPadding":0,"titleFontSize":16,"titleX":162.5,"titleY":24,"titleBaseline":"middle"}},
    "y":{"field":"v","type":"quantitative","scale":{"domain":[-0.0007,0.0939],"nice":false,"zero":false},
      "axis":{"title":"Nanotextured oxide strain (%)","values":[0,0.005,0.01,0.015,0.02,0.025,0.03,0.035,0.04,0.045,0.05,0.055,0.06,0.065,0.07,0.075,0.08,0.085,0.09],"format":".2f","labelExpr":"round(datum.value*1000) % 10 === 0 ? datum.label : ''","tickSize":{"condition":{"test":"round(datum.value*1000) % 10 === 0","value":6},"value":3},"labelFontSize":15.5,"labelPadding":1,"titleFontSize":16,"titleX":-50,"titleY":134,"titleBaseline":"middle"}}}},
  {"data":{"name":"g_bars"},"mark":{"type":"text","dy":-12,"baseline":"middle","fontSize":15,"fontWeight":"bold","color":"#111"},
   "encoding":{"x":{"field":"k","type":"nominal","sort":null},"y":{"field":"v","type":"quantitative"},"text":{"field":"lab"}}},
  {"data":{"name":"g_note"},"mark":{"type":"text","dx":-23,"baseline":"middle","fontSize":15,"fontWeight":"bold","color":"#111"},
   "encoding":{"x":{"field":"k","type":"nominal","sort":null},"y":{"field":"v","type":"quantitative"},"text":{"field":"t"}}},
  {"data":{"name":"one"},"mark":{"type":"text","text":"g","align":"left","baseline":"alphabetic","fontSize":21,"fontWeight":"bold","color":"#000","dx":-111,"dy":3},
   "encoding":{"x":{"datum":"10%"},"y":{"datum":0.0939}}}
 ]}
],"spacing":0,"bounds":"flush"}
]
}
